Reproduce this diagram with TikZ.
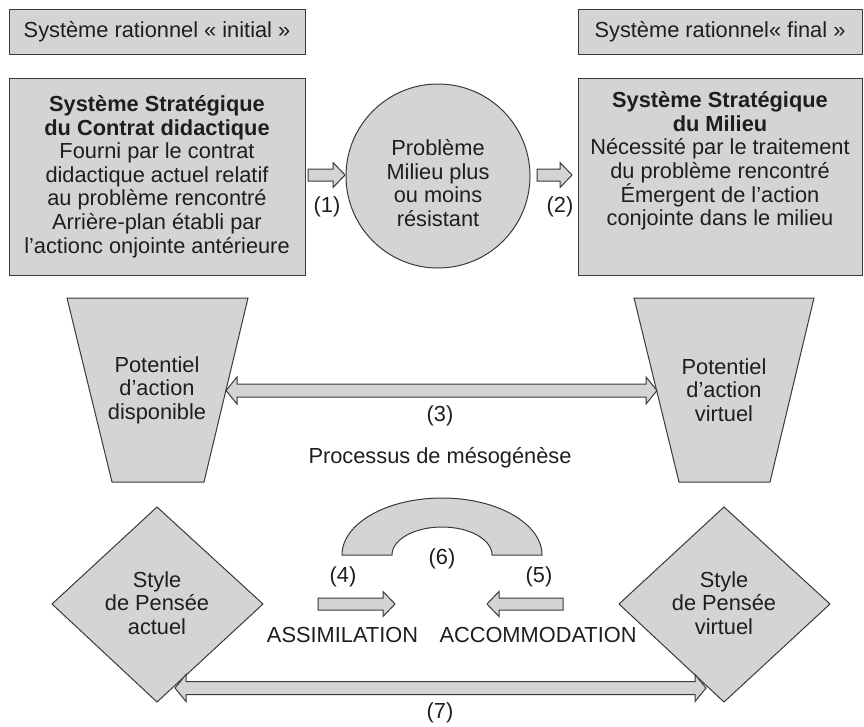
\documentclass[tikz,border=0pt]{standalone}
\usepackage{fontspec}
\setmainfont{Liberation Sans}
\usetikzlibrary{calc}
\definecolor{shapefill}{HTML}{D3D4D6}
\definecolor{edge}{HTML}{3A3A3A}
\definecolor{ink}{HTML}{1E1E1E}
\newcommand{\sarrow}[3]{% tail, tip, dir (1 right, -1 left)
  \draw[barrow] ($(#1)+(0,-6)$) -- ($(#2)+({-#3*12},-6)$) -- ($(#2)+({-#3*12},-12.5)$) -- (#2)
    -- ($(#2)+({-#3*12},12.5)$) -- ($(#2)+({-#3*12},6)$) -- ($(#1)+(0,6)$) -- cycle;}
\newcommand{\darrow}[2]{% left tip, right tip
  \draw[barrow] (#1) -- ($(#1)+(11,-13.5)$) -- ($(#1)+(11,-6.5)$) -- ($(#2)+(-11,-6.5)$) -- ($(#2)+(-11,-13.5)$)
    -- (#2) -- ($(#2)+(-11,13.5)$) -- ($(#2)+(-11,6.5)$) -- ($(#1)+(11,6.5)$) -- ($(#1)+(11,13.5)$) -- cycle;}
\begin{document}
\begin{tikzpicture}[x=1pt,y=-1pt,
  every node/.style={text=ink, font=\fontsize{21.8}{23.6}\selectfont},
  box/.style={draw=edge, line width=1pt, fill=shapefill, rectangle, inner sep=0pt, align=center},
  shp/.style={draw=edge, line width=1pt, fill=shapefill},
  txt/.style={inner sep=0pt, align=center},
  barrow/.style={draw=edge, line width=1pt, fill=shapefill, line join=miter}]
\useasboundingbox (0,0) rectangle (864,726);

% top labels
\node[box, minimum width=296, minimum height=45] (ri) at (157,31.5) {Système rationnel « initial »};
\node[box, minimum width=284, minimum height=45] (rf) at (720,31.5) {Système rationnel« final »};

% big boxes
\node[box, minimum width=296, minimum height=197] (cd) at (157,176.5) {\textbf{Système Stratégique}\\
\textbf{du Contrat didactique}\\ Fourni par le contrat\\ didactique actuel relatif\\ au problème rencontré\\
Arrière-plan établi par\\ l’actionc onjointe antérieure};
\node[box, minimum width=284, minimum height=197] (mi) at (720,176.5) {};
\node[txt] (mit) at (720,161) {\textbf{Système Stratégique}\\ \textbf{du Milieu}\\ Nécessité par le traitement\\
du problème rencontré\\ Émergent de l’action\\ conjointe dans le milieu};

% circle
\node[circle, draw=edge, line width=1pt, fill=shapefill, minimum size=184, inner sep=0pt] (pb) at (438,176) {};
\node[txt] (pbt) at (438,183) {Problème\\ Milieu plus\\ ou moins\\ résistant};

% arrows 1, 2
\coordinate (a1t) at (308,175); \coordinate (a1h) at (345,175);
\coordinate (a2t) at (537,175); \coordinate (a2h) at (572,175);
\sarrow{a1t}{a1h}{1}
\sarrow{a2t}{a2h}{1}
\node[txt] (l1) at (327,207) {(1)};
\node[txt] (l2) at (560,207) {(2)};

% trapezoids
\draw[shp] (67,298) -- (248,298) -- (204,482) -- (112,482) -- cycle;
\draw[shp] (634,298) -- (814,298) -- (770,482) -- (679,482) -- cycle;
\node[txt] (pd) at (157,390) {Potentiel\\ d’action\\ disponible};
\node[txt] (pv) at (724,390) {Potentiel\\ d’action\\ virtuel};

% arrow 3
\coordinate (a3l) at (226,390.5); \coordinate (a3r) at (657,390.5);
\darrow{a3l}{a3r}
\node[txt] (l3) at (440,416) {(3)};
\node[txt] (pm) at (440,458) {Processus de mésogénèse};

% arch 6
\draw[shp] (342,555) arc[start angle=180, end angle=360, x radius=100, y radius=57]
  -- (492,555) arc[start angle=0, end angle=-180, x radius=50, y radius=28] -- cycle;
\node[txt] (l6) at (442,559) {(6)};

% diamonds
\draw[shp] (52,604) -- (157,507) -- (263,604) -- (157,702) -- cycle;
\draw[shp] (619,604) -- (724,507) -- (830,604) -- (724,702) -- cycle;
\node[txt] (sa) at (157,603) {Style\\ de Pensée\\ actuel};
\node[txt] (sv) at (724,603) {Style\\ de Pensée\\ virtuel};

% arrows 4, 5
\coordinate (a4t) at (318,604); \coordinate (a4h) at (395,604);
\coordinate (a5t) at (563,604); \coordinate (a5h) at (487,604);
\sarrow{a4t}{a4h}{1}
\sarrow{a5t}{a5h}{-1}
\node[txt] (l4) at (343,577) {(4)};
\node[txt] (l5) at (539,577) {(5)};
\node[txt] (as) at (342.5,635) {ASSIMILATION};
\node[txt] (ac) at (538,635) {ACCOMMODATION};

% arrow 7
\coordinate (a7l) at (175,688); \coordinate (a7r) at (706,688);
\darrow{a7l}{a7r}
\node[txt] (l7) at (440,713) {(7)};
\end{tikzpicture}
\end{document}
